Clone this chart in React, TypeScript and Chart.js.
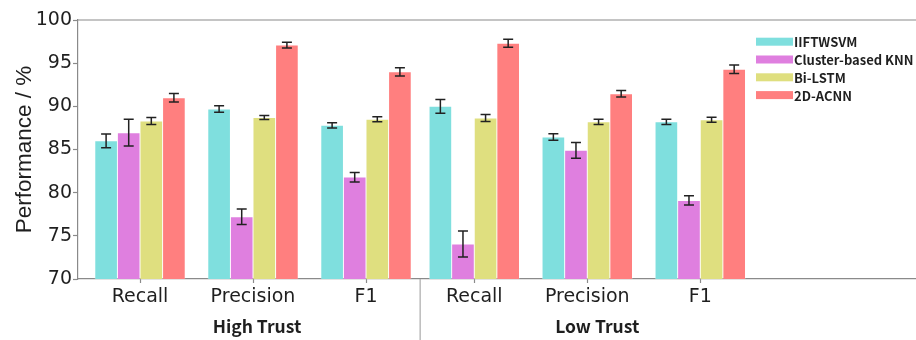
import React, { useEffect, useRef } from "react";
import { Chart, registerables } from "chart.js";

Chart.register(...registerables);

// Metric names shown under each bar group, and the two trust settings
const metrics = ["Recall", "Precision", "F1", "Recall", "Precision", "F1"];
const trustLevels = ["High Trust", "Low Trust"];
const methods = ["IIFTWSVM", "Cluster-based KNN", "Bi-LSTM", "2D-ACNN"];

// Scores (%) in order: High Recall, High Precision, High F1, Low Recall, Low Precision, Low F1
const iiftwsvm = [86.0, 89.7, 87.8, 90.0, 86.45, 88.2];
const iiftwsvmErr = [0.8, 0.38, 0.3, 0.8, 0.38, 0.29];
const clusterKnn = [86.95, 77.2, 81.8, 74.05, 84.9, 79.1];
const clusterKnnErr = [1.55, 0.9, 0.55, 1.5, 0.9, 0.54];
const biLstm = [88.3, 88.7, 88.5, 88.65, 88.2, 88.45];
const biLstmErr = [0.4, 0.23, 0.3, 0.4, 0.3, 0.3];
const acnn2d = [91.0, 97.1, 94.0, 97.3, 91.45, 94.3];
const acnn2dErr = [0.5, 0.33, 0.48, 0.46, 0.37, 0.5];

const yTicks = [70, 75, 80, 85, 90, 95, 100];

const seriesValues = [iiftwsvm, clusterKnn, biLstm, acnn2d];
const seriesErrors = [iiftwsvmErr, clusterKnnErr, biLstmErr, acnn2dErr];
const seriesColors = ["#7FDFDE", "#DF7FDF", "#DFDF7F", "#FF7F7F"];

// The low-trust block sits slightly closer to the high-trust block
const LOW_SHIFT = 0.042;
const groupX = (i: number) => (i < 3 ? i : i - LOW_SHIFT);

const AXIS_GRAY = "#8a8a8a";
const TEXT = "#1f1f1f";
const CJK = '"Noto Sans CJK SC", "Noto Sans", sans-serif';

const errorBars = {
  id: "errorBars",
  afterDatasetsDraw(chart: any) {
    const ctx = chart.ctx;
    const y = chart.scales.y;
    ctx.save();
    ctx.strokeStyle = "#222";
    ctx.lineWidth = 1.5;
    chart.data.datasets.forEach((ds: any, di: number) => {
      const meta = chart.getDatasetMeta(di);
      meta.data.forEach((bar: any, i: number) => {
        const v = seriesValues[di][i];
        const e = seriesErrors[di][i];
        const top = y.getPixelForValue(v + e);
        const bot = y.getPixelForValue(v - e);
        const cx = bar.x;
        ctx.beginPath();
        ctx.moveTo(cx, top);
        ctx.lineTo(cx, bot);
        ctx.moveTo(cx - 5, top);
        ctx.lineTo(cx + 5, top);
        ctx.moveTo(cx - 5, bot);
        ctx.lineTo(cx + 5, bot);
        ctx.stroke();
      });
    });
    ctx.restore();
  },
};

const decorations = {
  id: "decorations",
  afterDraw(chart: any) {
    const ctx = chart.ctx;
    const { left, right, top, bottom } = chart.chartArea;
    const x = chart.scales.x;
    ctx.save();
    // top spine
    ctx.strokeStyle = AXIS_GRAY;
    ctx.lineWidth = 1.2;
    ctx.beginPath();
    ctx.moveTo(left, top);
    ctx.lineTo(right, top);
    ctx.stroke();

    // divider between the two trust blocks
    const divX = (x.getPixelForValue(groupX(2)) + x.getPixelForValue(groupX(3))) / 2;
    ctx.strokeStyle = "#b0b0b0";
    ctx.lineWidth = 1.3;
    ctx.beginPath();
    ctx.moveTo(divX, bottom);
    ctx.lineTo(divX, chart.height);
    ctx.stroke();

    // trust-level captions
    ctx.fillStyle = TEXT;
    ctx.font = `bold 17.5px ${CJK}`;
    ctx.textAlign = "center";
    ctx.textBaseline = "middle";
    ctx.fillText(trustLevels[0], x.getPixelForValue(groupX(1)) + 4, 326);
    ctx.fillText(trustLevels[1], x.getPixelForValue(groupX(4)) + 10, 326);

    // legend
    ctx.textAlign = "left";
    ctx.font = `bold 13px ${CJK}`;
    chart.data.datasets.forEach((ds: any, i: number) => {
      const cy = 41.7 + i * 17.8;
      ctx.fillStyle = ds.backgroundColor;
      ctx.fillRect(756, cy - 4, 37, 8);
      ctx.fillStyle = TEXT;
      ctx.fillText(ds.label, 794, cy + 0.5);
    });
    ctx.restore();
  },
};

export default function App() {
  const ref = useRef<HTMLCanvasElement>(null);

  useEffect(() => {
    if (!ref.current) return;
    const chart = new Chart(ref.current, {
      type: "bar",
      data: {
        datasets: methods.map((m, di) => ({
          label: m,
          data: seriesValues[di].map((v, i) => ({ x: groupX(i), y: v })),
          backgroundColor: seriesColors[di],
          borderColor: "rgba(255,255,255,0.3)",
          borderWidth: 0.8,
          barThickness: 22.6,
        })),
      },
      options: {
        responsive: false,
        animation: false,
        devicePixelRatio: 1,
        layout: { padding: { top: 20, right: 0, bottom: 0, left: 0 } },
        plugins: { legend: { display: false }, tooltip: { enabled: false } },
        scales: {
          x: {
            type: "linear",
            offset: false,
            min: -0.5487,
            max: 6.867,
            afterFit: (s: any) => {
              s.height = 61;
            },
            afterBuildTicks: (s: any) => {
              s.ticks = metrics.map((_, i) => ({ value: groupX(i) }));
            },
            grid: {
              offset: false,
              drawOnChartArea: false,
              tickLength: 4,
              tickColor: AXIS_GRAY,
              tickWidth: 1.2,
            },
            border: { color: AXIS_GRAY, width: 1.2 },
            ticks: {
              autoSkip: false,
              maxRotation: 0,
              padding: 3,
              color: TEXT,
              font: { family: '"DejaVu Sans", sans-serif', size: 19 },
              callback: (_v: any, i: number) => metrics[i],
            },
          },
          y: {
            min: 70,
            max: 100,
            afterFit: (s: any) => {
              s.width = 78;
            },
            afterBuildTicks: (s: any) => {
              s.ticks = yTicks.map((v) => ({ value: v }));
            },
            grid: {
              drawOnChartArea: false,
              tickLength: 5,
              tickColor: AXIS_GRAY,
              tickWidth: 1.2,
            },
            border: { color: AXIS_GRAY, width: 1.2 },
            ticks: {
              padding: 1,
              color: TEXT,
              font: { family: '"DejaVu Sans", sans-serif', size: 19 },
            },
            title: {
              display: true,
              text: "Performance / %",
              color: TEXT,
              font: { family: '"Liberation Sans", Arial, sans-serif', size: 22.5, weight: "normal" },
              padding: { top: 11.7, bottom: 0 },
            },
          },
        },
      },
      plugins: [errorBars, decorations],
    });
    return () => chart.destroy();
  }, []);

  return (
    <div style={{ position: "absolute", left: 0, top: 0, width: 916, height: 340, background: "#fff" }}>
      <canvas ref={ref} width={916} height={340} />
    </div>
  );
}
